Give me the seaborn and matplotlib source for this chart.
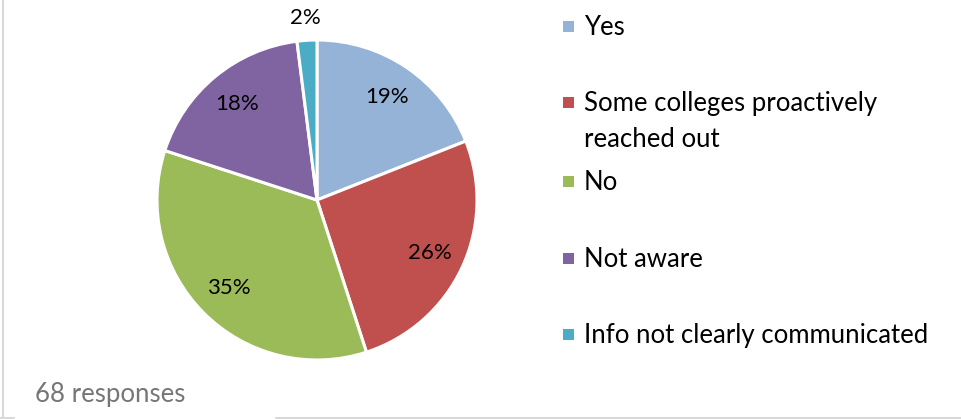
import matplotlib
matplotlib.use("Agg")
import matplotlib.pyplot as plt
import numpy as np
import seaborn as sns
from matplotlib.lines import Line2D
from matplotlib.patches import Rectangle

# Survey answers (percent of 68 responses)
categories = ["Yes", "Some colleges proactively\nreached out", "No", "Not aware",
              "Info not clearly communicated"]
shares = [19, 26, 35, 18, 2]
colors = ["#95B3D7", "#C0504D", "#9BBB59", "#8064A2", "#4BACC6"]
footnote = "68 responses"

sns.set_theme(style="white")
plt.rcParams["font.family"] = ["Lato", "DejaVu Sans"]

W, H = 962, 419
fig = plt.figure(figsize=(W / 100, H / 100), dpi=100)
fig.patch.set_facecolor("white")

def fx(px):
    return px / W

def fy(py):
    return 1 - py / H

# square axes holding the pie (centre ~ (317, 200), radius 160 px)
cx, cy, r = 317, 200, 160
ax = fig.add_axes([fx(cx - r), fy(cy + r), 2 * r / W, 2 * r / H])
wedges, _ = ax.pie(shares, colors=colors, startangle=90, counterclock=False,
                   radius=1.0, wedgeprops=dict(edgecolor="white", linewidth=2.2))
ax.set_xlim(-1, 1)
ax.set_ylim(-1, 1)
ax.set_aspect("equal")
ax.axis("off")

for w, v in zip(wedges, shares):
    mid = np.deg2rad((w.theta1 + w.theta2) / 2)
    dist = 0.78 if v >= 5 else 1.14
    ax.text(dist * np.cos(mid), dist * np.sin(mid), f"{v}%", ha="center",
            va="center", fontsize=16, color="black", clip_on=False)

# legend drawn as coloured squares with labels (one baseline per text line)
baselines = [35, 110.7, 190, 266.7, 343]
line_step = 36
for lab, col, b in zip(categories, colors, baselines):
    fig.add_artist(Rectangle((fx(563), fy(b - 3)), fx(11), 11 / H,
                             transform=fig.transFigure, facecolor=col,
                             edgecolor="none"))
    for i, part in enumerate(lab.split("\n")):
        fig.text(fx(584), fy(b + i * line_step), part, ha="left",
                 va="baseline", fontsize=18.5, color="black")

# chart frame (left and bottom edges)
fig.add_artist(Line2D([fx(2.5), fx(2.5)], [fy(0), fy(417.5)],
                      transform=fig.transFigure, color="#D9D9D9", lw=1.5))
fig.add_artist(Line2D([fx(0), fx(14)], [fy(417.5), fy(417.5)],
                      transform=fig.transFigure, color="#D9D9D9", lw=1.5))
fig.add_artist(Line2D([fx(276), fx(W)], [fy(417.5), fy(417.5)],
                      transform=fig.transFigure, color="#D9D9D9", lw=1.5))

fig.text(fx(35), fy(401.7), footnote, ha="left", va="baseline", fontsize=18.5,
         color="#767676")

fig.savefig("out.png", dpi=100, facecolor="white")
